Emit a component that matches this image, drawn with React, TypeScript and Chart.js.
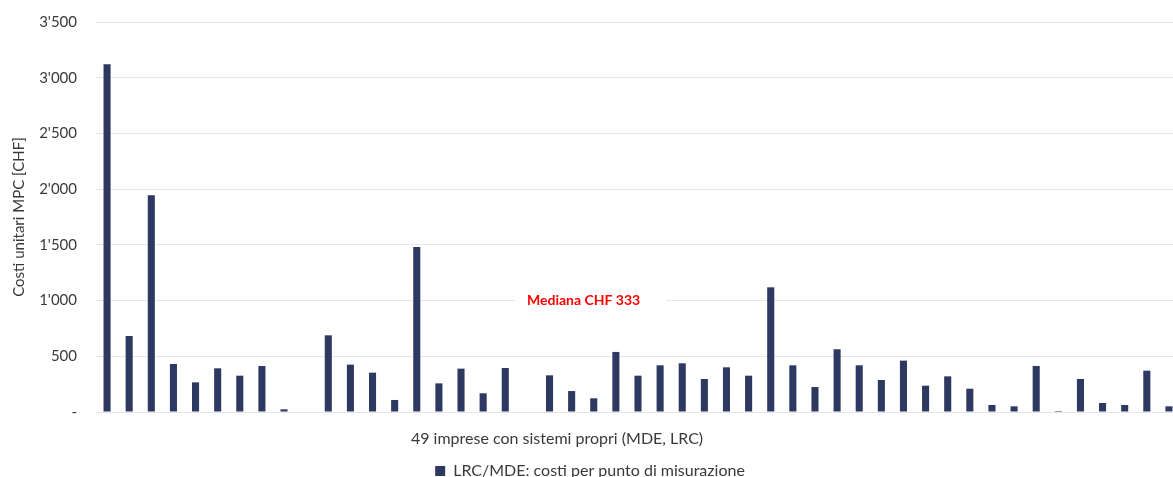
import React, { useEffect, useRef } from "react";
import { Chart, registerables } from "chart.js";

Chart.register(...registerables);

const companies: string[] = Array.from({ length: 49 }, (_, i) => `Impresa ${i + 1}`);
const costPerPoint: number[] = [
  3120, 682, 1945, 431, 266, 392, 326, 413, 24, 0,
  688, 425, 353, 108, 1481, 257, 389, 168, 395, 0,
  329, 188, 123, 539, 326, 419, 437, 296, 401, 326,
  1119, 419, 224, 563, 419, 287, 461, 236, 320, 209,
  63, 51, 413, 9, 296, 81, 63, 371, 51,
];
const seriesLabel = "LRC/MDE: costi per punto di misurazione";
const yTitle = "Costi unitari MPC [CHF]";
const xTitle = "49 imprese con sistemi propri (MDE, LRC)";
const medianLabel = "Mediana CHF 333";
const medianLabelValue = 1000;
const medianLabelPos = 21.54;
const xTitlePos = 20.34;
const yMax = 3500;
const yStep = 500;

const FONT = "Lato";
const BAR = "#2e3961";
const GRID = "#e3e6ef";
const TXT = "#3a3a3a";

function fmt(v: number): string {
  if (v === 0) return "-";
  return String(v).replace(/\B(?=(\d{3})+(?!\d))/g, "'");
}

const extras = {
  id: "extras",
  beforeDatasetsDraw(chart: any) {
    const { ctx, scales } = chart;
    const x = scales.x;
    const y = scales.y;
    const cx = x.getPixelForValue(medianLabelPos);
    const cy = y.getPixelForValue(medianLabelValue);
    ctx.save();
    ctx.font = `bold 14px ${FONT}`;
    const w = ctx.measureText(medianLabel).width;
    ctx.fillStyle = "#ffffff";
    ctx.fillRect(cx - w / 2 - 12, cy - 9, w + 38, 18);
    ctx.fillStyle = "#ff0000";
    ctx.textAlign = "center";
    ctx.textBaseline = "middle";
    ctx.fillText(medianLabel, cx, cy);
    ctx.restore();
  },
  afterDraw(chart: any) {
    const { ctx, scales } = chart;
    const x = scales.x;
    ctx.save();
    ctx.font = `16px ${FONT}`;
    ctx.fillStyle = TXT;
    ctx.textAlign = "center";
    ctx.textBaseline = "middle";
    ctx.fillText(xTitle, x.getPixelForValue(xTitlePos), x.bottom - 11);
    ctx.restore();
  },
};

export default function App() {
  const ref = useRef<HTMLCanvasElement | null>(null);
  useEffect(() => {
    if (!ref.current) return;
    const chart = new Chart(ref.current, {
      type: "bar",
      data: {
        labels: companies,
        datasets: [
          {
            label: seriesLabel,
            data: costPerPoint,
            backgroundColor: BAR,
            borderWidth: 0,
            categoryPercentage: 1,
            barPercentage: 0.32,
          },
        ],
      },
      options: {
        animation: false,
        responsive: false,
        layout: { padding: { top: 22, right: 2, bottom: 1, left: 0 } },
        plugins: {
          tooltip: { enabled: false },
          legend: {
            position: "bottom",
            labels: {
              boxWidth: 10,
              boxHeight: 10,
              padding: 13,
              color: TXT,
              font: { family: FONT, size: 16 },
            },
          },
        },
        scales: {
          x: {
            grid: { display: false, drawTicks: false },
            border: { display: false },
            ticks: { display: false },
            title: {
              display: true,
              text: xTitle,
              color: "rgba(0,0,0,0)",
              font: { family: FONT, size: 15 },
              padding: { top: 20, bottom: 0 },
            },
          },
          y: {
            min: 0,
            max: yMax,
            afterFit: (s: any) => {
              s.width = 96;
            },
            ticks: {
              stepSize: yStep,
              padding: 0,
              color: TXT,
              font: { family: FONT, size: 15 },
              callback: (v: any) => fmt(Number(v)),
            },
            grid: {
              color: GRID,
              lineWidth: 1,
              drawTicks: true,
              tickLength: 19,
              tickColor: "rgba(0,0,0,0)",
            },
            border: { display: false },
            title: {
              display: true,
              text: yTitle,
              color: TXT,
              font: { family: FONT, size: 15 },
              padding: { top: 10, bottom: 0 },
            },
          },
        },
      },
      plugins: [extras],
    });
    return () => chart.destroy();
  }, []);
  return (
    <div
      style={{
        position: "fixed",
        left: 0,
        top: 0,
        width: 1173,
        height: 477,
        overflow: "hidden",
        background: "#ffffff",
      }}
    >
      <canvas ref={ref} width={1182} height={490} style={{ display: "block" }} />
    </div>
  );
}
